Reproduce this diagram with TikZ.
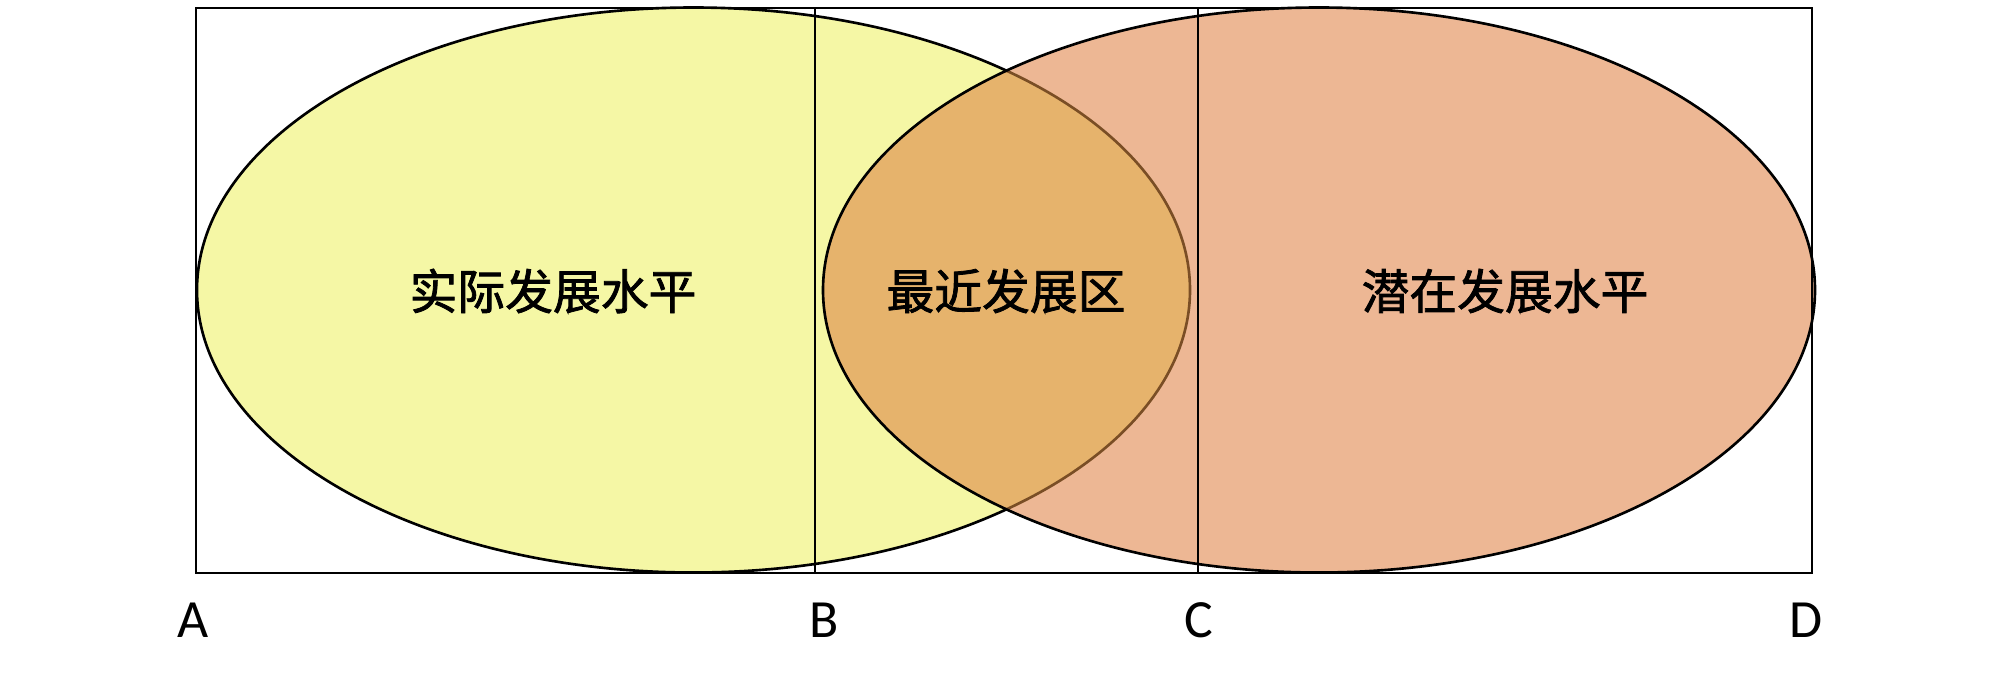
\documentclass[tikz,border=0pt]{standalone}
\usepackage{fontspec}
\setmainfont{Carlito}
\newfontfamily\cjk[FakeBold=1.6]{Noto Sans CJK SC}
\definecolor{yfill}{HTML}{F5F7A5}
\definecolor{ofill}{HTML}{EDB794}
\definecolor{xfill}{HTML}{E6B36C}
\definecolor{xline}{HTML}{7A4E25}
\tikzset{
  frame/.style={draw=black, line width=0.75pt},
  ell/.style={line width=0.75pt},
  zone/.style={font=\cjk\fontsize{13.6pt}{15pt}\selectfont, inner sep=0pt},
  tick/.style={font=\fontsize{15.3pt}{17pt}\selectfont, inner sep=0pt}
}
\begin{document}
\begin{tikzpicture}
\useasboundingbox (0,0) rectangle (20,6.77);
% ellipses
\fill[yfill] (6.935,3.87) ellipse [x radius=4.965, y radius=2.825];
\draw[ell] (6.935,3.87) ellipse [x radius=4.965, y radius=2.825];
\fill[ofill] (13.19,3.87) ellipse [x radius=4.96, y radius=2.825];
\begin{scope}
  \clip (6.935,3.87) ellipse [x radius=4.965, y radius=2.825];
  \fill[xfill] (13.19,3.87) ellipse [x radius=4.96, y radius=2.825];
\end{scope}
\begin{scope}
  \clip (13.19,3.87) ellipse [x radius=4.96, y radius=2.825];
  \draw[ell, xline] (6.935,3.87) ellipse [x radius=4.965, y radius=2.825];
\end{scope}
\draw[ell] (13.19,3.87) ellipse [x radius=4.96, y radius=2.825];
% frame and dividers
\coordinate (tl) at (1.96,6.69);
\coordinate (br) at (18.12,1.04);
\coordinate (bt) at (8.15,6.69);
\coordinate (bb) at (8.15,1.04);
\coordinate (ct) at (11.98,6.69);
\coordinate (cb) at (11.98,1.04);
\draw[frame] (tl) rectangle (br);
\draw[frame] (bt) -- (bb);
\draw[frame] (ct) -- (cb);
% zone labels
\node[zone] (actual) at (5.53,3.86) {实际发展水平};
\node[zone] (zpd) at (10.06,3.86) {最近发展区};
\node[zone] (potential) at (15.05,3.86) {潜在发展水平};
% axis letters
\node[tick] (A) at (1.93,0.57) {A};
\node[tick] (B) at (8.24,0.57) {B};
\node[tick] (C) at (11.99,0.57) {C};
\node[tick] (D) at (18.06,0.57) {D};
\end{tikzpicture}
\end{document}
